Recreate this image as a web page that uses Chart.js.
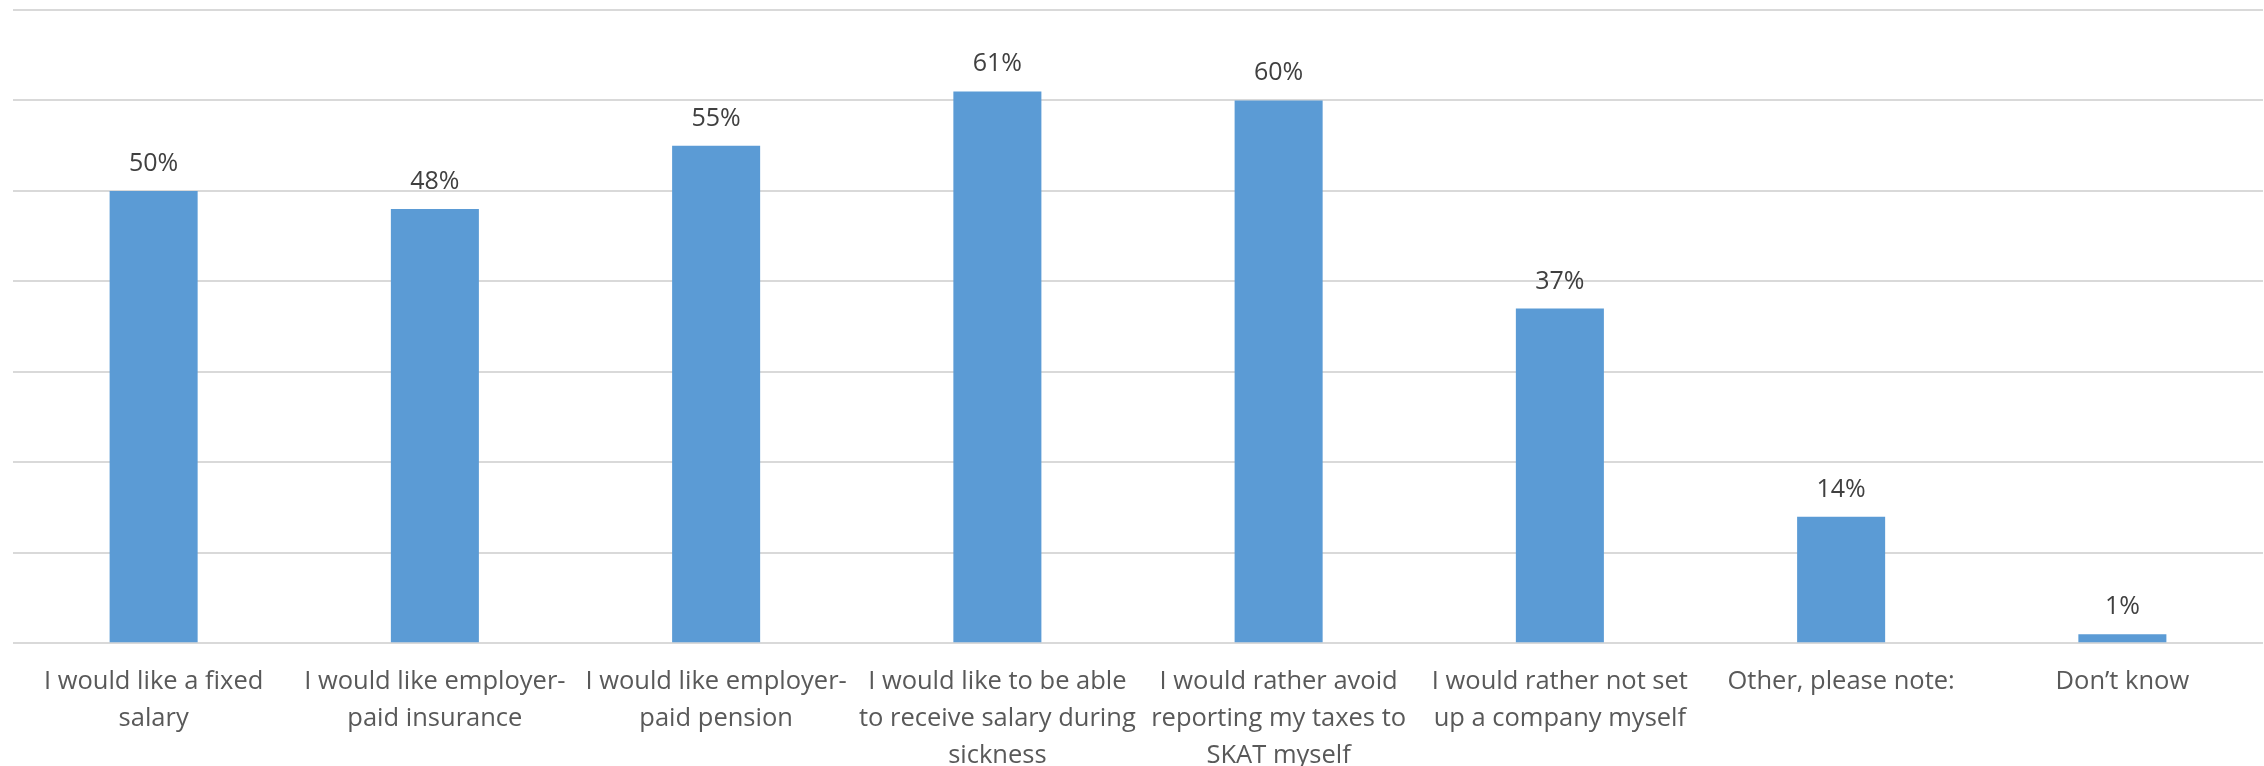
<!DOCTYPE html>
<html>
<head>
<meta charset="utf-8">
<script src="https://cdn.jsdelivr.net/npm/chart.js@4.4.1/dist/chart.umd.min.js"></script>
<style>
  html, body { margin: 0; padding: 0; background: #ffffff; overflow: hidden; }
  #chart { display: block; }
</style>
</head>
<body>
<canvas id="chart" width="2264" height="766"></canvas>
<script>
const categories = [
  ["I would like a fixed", "salary"],
  ["I would like employer-", "paid insurance"],
  ["I would like employer-", "paid pension"],
  ["I would like to be able", "to receive salary during", "sickness"],
  ["I would rather avoid", "reporting my taxes to", "SKAT myself"],
  ["I would rather not set", "up a company myself"],
  ["Other, please note:"],
  ["Don\u2019t know"]
];
const shares = [50, 48, 55, 61, 60, 37, 14, 1];
const yTicks = [0, 10, 20, 30, 40, 50, 60, 70];

const FONT = "'Open Sans', 'Noto Sans', sans-serif";

// Percent labels above each bar
const valueLabels = {
  id: 'valueLabels',
  afterDatasetsDraw(chart) {
    const ctx = chart.ctx;
    const meta = chart.getDatasetMeta(0);
    ctx.save();
    ctx.font = '25px ' + FONT;
    ctx.fillStyle = '#404040';
    ctx.textAlign = 'center';
    ctx.textBaseline = 'alphabetic';
    meta.data.forEach((bar, i) => {
      ctx.fillText(shares[i] + '%', bar.x, bar.y - 20);
    });
    ctx.restore();
  }
};

new Chart(document.getElementById('chart'), {
  type: 'bar',
  data: {
    labels: categories,
    datasets: [{
      data: shares,
      backgroundColor: '#5B9BD5',
      borderWidth: 0,
      barPercentage: 0.313,
      categoryPercentage: 1.0
    }]
  },
  options: {
    responsive: false,
    animation: false,
    devicePixelRatio: 1,
    layout: { padding: { left: 13, right: 1, top: 10, bottom: 0 } },
    plugins: {
      legend: { display: false },
      tooltip: { enabled: false }
    },
    scales: {
      x: {
        grid: { display: false },
        border: { display: false },
        ticks: {
          color: '#595959',
          font: { family: FONT, size: 25.5, lineHeight: 1.45 },
          padding: 12,
          maxRotation: 0,
          autoSkip: false
        },
        afterFit(axis) { axis.height = 122.7; }
      },
      y: {
        min: yTicks[0],
        max: yTicks[yTicks.length - 1],
        afterBuildTicks(axis) { axis.ticks = yTicks.map(v => ({ value: v })); },
        ticks: { display: false },
        border: { display: false },
        grid: { color: '#d9d9d9', lineWidth: 2, drawTicks: false }
      }
    }
  },
  plugins: [valueLabels]
});
</script>
</body>
</html>
